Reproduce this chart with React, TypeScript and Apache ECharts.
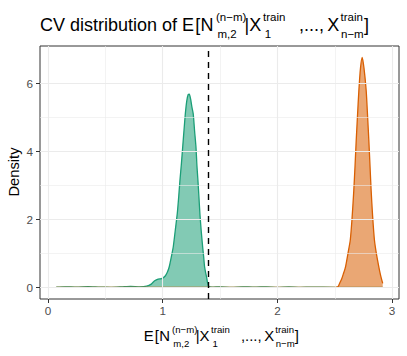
import React, { useEffect, useRef } from "react";
import * as echarts from "echarts";

// ---- data ----
const greenX = [0.072, 0.15, 0.25, 0.35, 0.45, 0.55, 0.65, 0.72, 0.8, 0.86, 0.9, 0.93, 0.96, 0.99, 1.02, 1.04, 1.057, 1.075, 1.092, 1.11, 1.127, 1.14, 1.15, 1.163, 1.174, 1.186, 1.197, 1.21, 1.222, 1.232, 1.243, 1.255, 1.266, 1.278, 1.29, 1.298, 1.307, 1.316, 1.324, 1.336, 1.348, 1.357, 1.365, 1.375, 1.383, 1.39, 1.4, 1.43, 1.5, 1.6, 1.7, 1.8, 1.9, 2.0, 2.1, 2.2, 2.3, 2.5, 2.7, 2.918];
const greenY = [0.01, 0.02, 0.01, 0.025, 0.01, 0.005, 0.02, 0.03, 0.02, 0.04, 0.1, 0.2, 0.25, 0.26, 0.33, 0.45, 0.61, 0.9, 1.2, 1.7, 2.18, 2.7, 3.15, 3.65, 4.13, 4.65, 5.11, 5.5, 5.68, 5.69, 5.55, 5.3, 5.11, 4.6, 4.13, 3.6, 3.15, 2.65, 2.18, 1.65, 1.2, 0.9, 0.61, 0.42, 0.3, 0.15, 0.04, 0.01, 0.02, 0.005, 0.02, 0.01, 0.02, 0.005, 0.015, 0.005, 0.01, 0.005, 0.005, 0.005];
const orangeX = [0.072, 0.5, 1.0, 1.5, 2.0, 2.45, 2.5, 2.527, 2.542, 2.56, 2.575, 2.594, 2.615, 2.635, 2.65, 2.666, 2.677, 2.687, 2.698, 2.71, 2.724, 2.739, 2.755, 2.774, 2.786, 2.797, 2.807, 2.817, 2.83, 2.846, 2.865, 2.884, 2.9, 2.918];
const orangeY = [0.002, 0.002, 0.002, 0.002, 0.002, 0.002, 0.005, 0.02, 0.12, 0.25, 0.4, 0.61, 1.0, 1.39, 2.0, 2.86, 3.6, 4.33, 5.05, 5.79, 6.45, 6.77, 6.45, 5.79, 5.05, 4.33, 3.6, 2.86, 2.1, 1.39, 0.95, 0.61, 0.35, 0.12];
const cutoff = 1.4;
const xTicks = [0, 1, 2, 3];
const xMinor = [0.5, 1.5, 2.5];
const yTicks = [0, 2, 4, 6];
const yMinor = [1, 3, 5];
const yTitle = "Density";
const titleLead = "CV distribution of ";

const FONT = '"Liberation Sans", Arial, Helvetica, sans-serif';

// pieces of E[N_{m,2}^{(n-m)} | X_1^train, ..., X_{n-m}^train]
const exprPieces = [
  { t: "E", dx: 0, kind: "main" },
  { t: "[", dx: 13.3, kind: "main" },
  { t: "N", dx: 18.5, kind: "main" },
  { t: "(n\u2212m)", dx: 34, kind: "sup" },
  { t: "m,2", dx: 35.5, kind: "sub" },
  { t: "|X", dx: 62.5, kind: "main" },
  { t: "train", dx: 81.1, kind: "sup" },
  { t: "1", dx: 82.8, kind: "sub" },
  { t: ",...,", dx: 117, kind: "main" },
  { t: "X", dx: 145.2, kind: "main" },
  { t: "train", dx: 158.5, kind: "sup" },
  { t: "n\u2212m", dx: 159, kind: "sub" },
  { t: "]", dx: 182, kind: "main" },
];

function textEl(text: string, x: number, y: number, size: number, fill: string, align: string, rotation = 0) {
  return {
    type: "text",
    x,
    y,
    rotation,
    silent: true,
    style: {
      text,
      fontSize: size,
      fontFamily: FONT,
      fill,
      align,
      textAlign: align,
      verticalAlign: "middle",
      textVerticalAlign: "middle",
    },
  };
}

function buildExpr(x0: number, baseline: number, k: number, mainSize: number, scriptSize: number) {
  const els: any[] = [];
  for (const p of exprPieces) {
    const size = p.kind === "main" ? mainSize : scriptSize;
    const b = p.kind === "main" ? baseline : p.kind === "sup" ? baseline - 10.7 * k : baseline + 6.8 * k;
    els.push(textEl(p.t, x0 + p.dx * k, b - 0.3465 * size, size, "#000000", "left"));
  }
  return els;
}

export default function App() {
  const ref = useRef<HTMLDivElement>(null);
  useEffect(() => {
    if (!ref.current) return;
    const chart = echarts.init(ref.current, undefined, { renderer: "svg" });
    const gridColor = "#ebebeb";
    const gridLines: any[] = [
      ...xMinor.map((v) => ({ xAxis: v, lineStyle: { color: gridColor, width: 0.6, type: "solid" } })),
      ...yMinor.map((v) => ({ yAxis: v, lineStyle: { color: gridColor, width: 0.6, type: "solid" } })),
      ...xTicks.map((v) => ({ xAxis: v, lineStyle: { color: gridColor, width: 1.1, type: "solid" } })),
      ...yTicks.map((v) => ({ yAxis: v, lineStyle: { color: gridColor, width: 1.1, type: "solid" } })),
    ];
    const option: any = {
      animation: false,
      textStyle: { fontFamily: FONT },
      grid: {
        left: 40,
        right: 8,
        top: 46,
        bottom: 57,
        show: true,
        backgroundColor: "#ffffff",
        borderColor: "#333333",
        borderWidth: 1,
      },
      xAxis: {
        type: "value",
        min: -0.07,
        max: 3.06,
        axisLine: { show: false, onZero: false },
        splitLine: { show: false },
        axisTick: { show: true, length: 4, customValues: xTicks, lineStyle: { color: "#333333", width: 1 } },
        axisLabel: { customValues: xTicks, color: "#4d4d4d", fontSize: 11.7, margin: 5, fontFamily: FONT },
      },
      yAxis: {
        type: "value",
        min: -0.3385,
        max: 7.1085,
        axisLine: { show: false, onZero: false },
        splitLine: { show: false },
        axisTick: { show: true, length: 4, customValues: yTicks, lineStyle: { color: "#333333", width: 1 } },
        axisLabel: { customValues: yTicks, color: "#4d4d4d", fontSize: 11.7, margin: 7, fontFamily: FONT },
      },
      series: [
        {
          type: "line",
          data: [],
          silent: true,
          z: 1,
          markLine: { silent: true, symbol: ["none", "none"], label: { show: false }, data: gridLines },
        },
        {
          type: "line",
          name: "green",
          data: greenX.map((x, i) => [x, greenY[i]]),
          symbol: "none",
          smooth: 0.2,
          z: 2,
          lineStyle: { color: "#1b9e77", width: 1.3 },
          areaStyle: { color: "#1b9e77", opacity: 0.55 },
        },
        {
          type: "line",
          name: "orange",
          data: orangeX.map((x, i) => [x, orangeY[i]]),
          symbol: "none",
          smooth: 0.2,
          z: 3,
          lineStyle: { color: "#d95f02", width: 1.3 },
          areaStyle: { color: "#d95f02", opacity: 0.55 },
        },
        {
          type: "line",
          data: [],
          silent: true,
          z: 4,
          markLine: {
            silent: true,
            symbol: ["none", "none"],
            label: { show: false },
            data: [{ xAxis: cutoff, lineStyle: { color: "#000000", width: 1.4, type: [6, 5] } }],
          },
        },
      ],
      graphic: [
        textEl(titleLead, 40, 31.5 - 0.3465 * 18, 18, "#000000", "left"),
        ...buildExpr(182, 31.5, 1, 18, 11.5),
        ...buildExpr(143.8, 341.5, 0.83, 14.9, 9.6),
        textEl(yTitle, 14, 172, 14.7, "#000000", "center", Math.PI / 2),
      ],
    };
    chart.setOption(option);
    return () => chart.dispose();
  }, []);
  return (
    <div
      ref={ref}
      style={{ position: "fixed", left: 0, top: 0, width: 407, height: 356, background: "#ffffff" }}
    />
  );
}
